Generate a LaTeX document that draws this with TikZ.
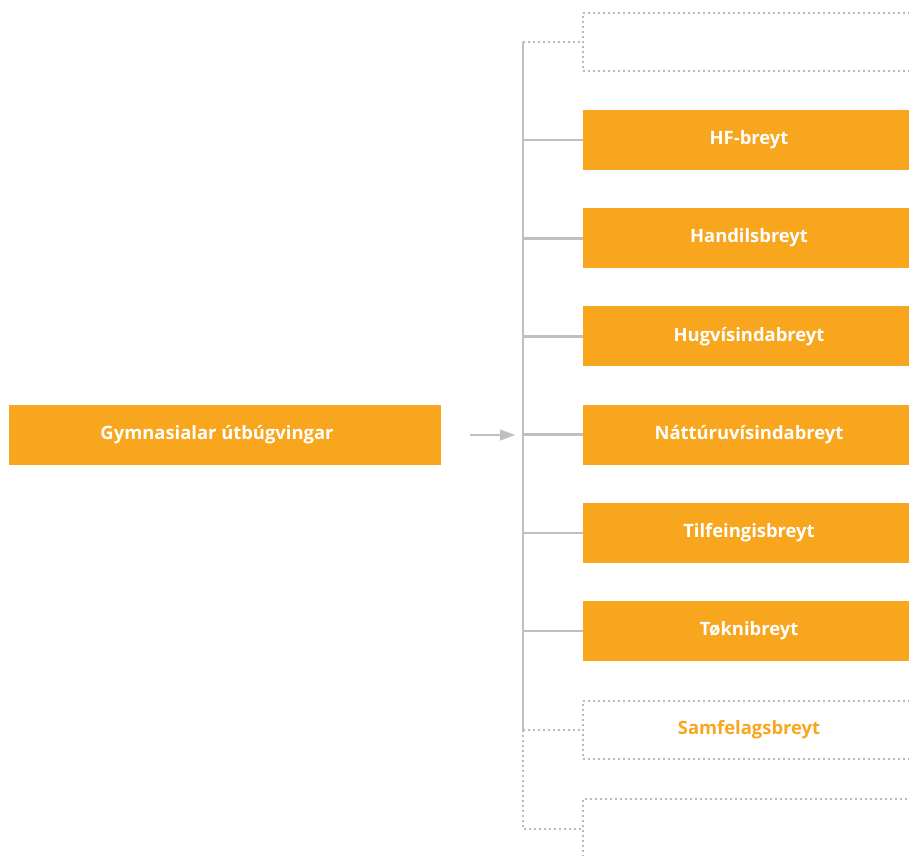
\documentclass[tikz,border=0pt]{standalone}
\usepackage{fontspec}
\setmainfont{Open Sans}
\usepackage{tikz}
\usetikzlibrary{arrows.meta, positioning, calc}
\definecolor{breytorange}{RGB}{248,166,30}
\definecolor{linegray}{RGB}{190,191,193}
\definecolor{dotgray}{RGB}{183,184,186}

\tikzset{
  obox/.style={fill=breytorange, text=white, font=\bfseries\fontsize{18.4}{20}\selectfont,
    minimum height=60, inner sep=0, outer sep=0},
  dotbox/.style={draw=dotgray, line width=2pt, dash pattern=on 2pt off 3pt,
    minimum height=58, minimum width=332, inner sep=0, outer sep=0, anchor=west,
    text=breytorange, font=\bfseries\fontsize{18.4}{20}\selectfont},
  trunk/.style={draw=linegray, line width=2.6pt},
  dotline/.style={draw=dotgray, line width=2pt, dash pattern=on 2pt off 3pt}
}

\begin{document}
\begin{tikzpicture}[x=1pt, y=-1pt]
\useasboundingbox (0,0) rectangle (909,855);
\clip (0,0) rectangle (909,855);
\def\xtrunk{523}
\def\xbox{583}

\node [obox, minimum width=432] (gym) at (225,435) {\hspace*{-16pt}Gymnasialar útbúgvingar};

\coordinate (arrs) at (470,435);
\coordinate (arre) at (515,435);
\draw [linegray, line width=1.2pt, -{Triangle[length=15pt, width=11pt]}] (arrs) -- (arre);

% empty boxes above and below
\node [dotbox] (top) at (\xbox,42) {};
\node [dotbox] (samf) at (\xbox,730) {Samfelagsbreyt};
\node [dotbox, anchor=north west, minimum height=80] (bot) at (\xbox,799) {};

\coordinate (ttop) at (\xtrunk,42);
\coordinate (tsamf) at (\xtrunk,730);
\coordinate (tbot) at (\xtrunk,829);

\foreach \n/\txt [count=\i] in {hf/HF-breyt, hand/Handilsbreyt, hug/Hugvísindabreyt,
    natt/Náttúruvísindabreyt, tilf/Tilfeingisbreyt, tokni/Tøknibreyt}
{
  \node [obox, anchor=west, minimum width=332] (\n) at (\xbox, {140+98.2*(\i-1)}) {\txt};
  \coordinate (t\i) at (\xtrunk, {140+98.2*(\i-1)});
  \draw [trunk] (t\i) -- (\n.west);
}

\draw [trunk] (ttop) -- (tsamf);
\draw [dotline] (ttop) -- (top.west);
\draw [dotline] (tsamf) -- (samf.west);
\draw [dotline] (tsamf) -- (tbot) -- (tbot -| bot.west);
\end{tikzpicture}
\end{document}
